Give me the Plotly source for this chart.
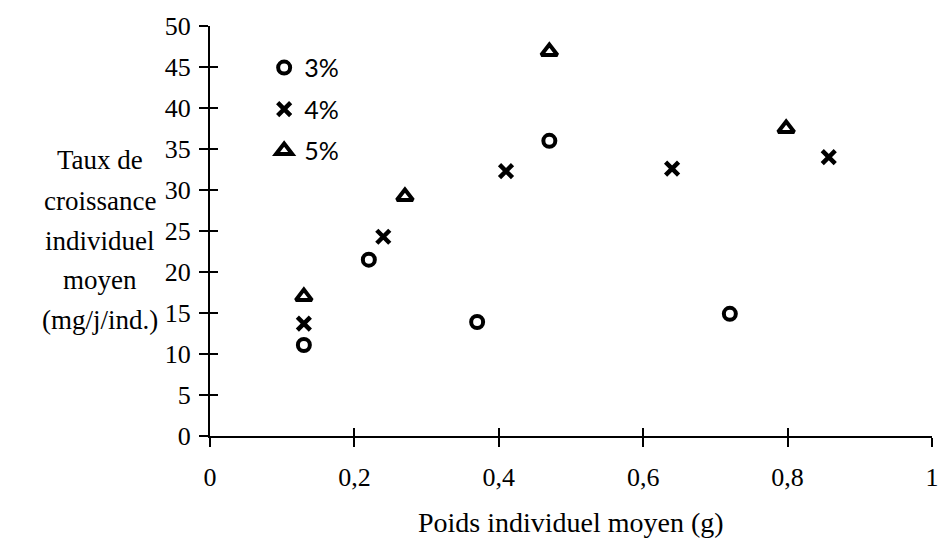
import plotly.graph_objects as go

# Data
x_3 = [0.13, 0.22, 0.37, 0.47, 0.72]
y_3 = [11.1, 21.5, 13.9, 36.0, 14.9]

x_4 = [0.13, 0.24, 0.41, 0.64, 0.857]
y_4 = [13.7, 24.3, 32.3, 32.6, 34.0]

x_5 = [0.13, 0.27, 0.47, 0.798]
y_5 = [17.0, 29.2, 46.9, 37.5]

series_names = ["3%", "4%", "5%"]
x_ticks = [0, 0.2, 0.4, 0.6, 0.8, 1]
x_tick_labels = ["0", "0,2", "0,4", "0,6", "0,8", "1"]
y_ticks = list(range(0, 55, 5))
y_title_lines = ["Taux de", "croissance", "individuel", "moyen", "(mg/j/ind.)"]
x_title = "Poids individuel moyen (g)"

SERIF = "Liberation Serif, Times New Roman, serif"
SANS = "Lato, DejaVu Sans, sans-serif"

fig = go.Figure()
fig.add_trace(go.Scatter(x=x_3, y=y_3, mode="markers", name=series_names[0], legendgroup="a",
                         marker=dict(symbol="circle-open", size=12, color="black", line=dict(width=4, color="black"))))
fig.add_trace(go.Scatter(x=x_4, y=y_4, mode="markers", name=series_names[1], legendgroup="b",
                         marker=dict(symbol="x-thin-open", size=13, color="black", line=dict(width=4.5, color="black"))))
fig.add_trace(go.Scatter(x=x_5, y=y_5, mode="markers", name=series_names[2], legendgroup="c",
                         marker=dict(symbol="triangle-up-open", size=14, color="black", line=dict(width=4, color="black"))))

# invisible trace on secondary axes to draw the inward halves of the crossing ticks
fig.add_trace(go.Scatter(x=[0], y=[0], xaxis="x2", yaxis="y2", mode="markers",
                         marker=dict(opacity=0), showlegend=False, hoverinfo="skip"))

axis_common = dict(showgrid=False, zeroline=False, showline=True, linecolor="black", linewidth=2,
                   ticks="outside", ticklen=9, tickwidth=1.5, tickcolor="black", automargin=False,
                   tickfont=dict(family=SERIF, size=26, color="black"))

fig.update_layout(
    width=941, height=544,
    margin=dict(l=210, r=9, t=26, b=108),
    paper_bgcolor="white", plot_bgcolor="white",
    xaxis=dict(range=[0, 1], tickvals=x_ticks, ticktext=x_tick_labels, ticklabelstandoff=8, **axis_common),
    yaxis=dict(range=[0, 50], tickvals=y_ticks, ticklabelstandoff=3, **axis_common),
    xaxis2=dict(range=[0, 1], overlaying="x", tickvals=x_ticks, showticklabels=False, showgrid=False,
                zeroline=False, showline=False, ticks="inside", ticklen=8, tickwidth=1.5, tickcolor="black",
                side="bottom", automargin=False),
    yaxis2=dict(range=[0, 50], overlaying="y", tickvals=y_ticks, showticklabels=False, showgrid=False,
                zeroline=False, showline=False, ticks="inside", ticklen=8, tickwidth=1.5, tickcolor="black",
                side="left", automargin=False),
    showlegend=True,
    legend=dict(x=0.075, y=0.954, xanchor="left", yanchor="top", bgcolor="rgba(0,0,0,0)",
                font=dict(family=SANS, size=25, color="black"), tracegroupgap=6, itemwidth=30),
)

line_y = [33.6, 28.7, 23.8, 19.0, 14.1]
for txt, yy in zip(y_title_lines, line_y):
    fig.add_annotation(text=txt, xref="paper", yref="y", x=-0.153, y=yy, showarrow=False,
                       xanchor="center", yanchor="middle", font=dict(family=SERIF, size=27, color="black"))

fig.add_annotation(text=x_title, xref="paper", yref="paper", x=0.5, y=-0.212, showarrow=False,
                   xanchor="center", yanchor="middle", font=dict(family=SERIF, size=28, color="black"))

fig.write_html("out.html", config={"displayModeBar": False},
               post_script="document.body.style.margin='0px';")
